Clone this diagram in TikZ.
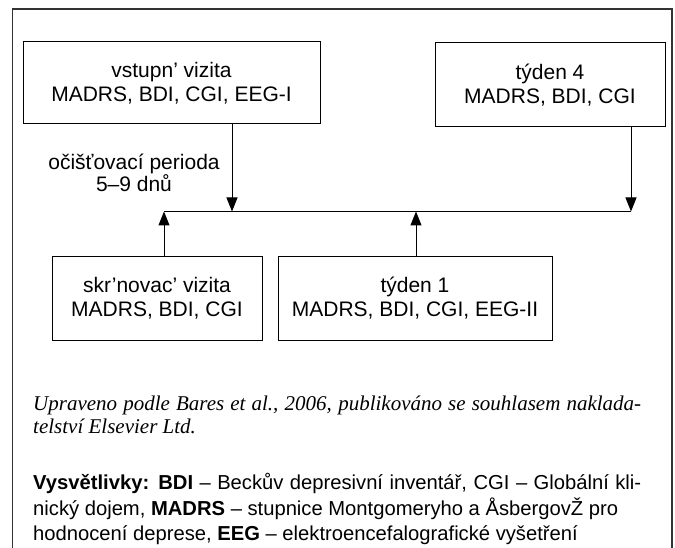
\documentclass[tikz,border=0pt]{standalone}
\usepackage{fontspec}
\setmainfont{Liberation Serif}
\setsansfont{Liberation Sans}
\usetikzlibrary{arrows.meta}
\tikzset{
  stagebox/.style={draw=black, line width=1pt, inner sep=0pt, align=center,
    font=\sffamily\fontsize{21}{24}\selectfont},
  arr/.style={line width=1pt, -{Triangle[length=14pt,width=11pt]}},
  plainline/.style={line width=1pt},
  frameline/.style={draw=black!80, line width=1.5pt},
  capline/.style={anchor=base west, inner sep=0pt, font=\itshape\fontsize{21}{23}\selectfont},
  legline/.style={anchor=base west, inner sep=0pt, font=\sffamily\fontsize{20.2}{25.5}\selectfont},
}
\begin{document}
\begin{tikzpicture}[x=1pt,y=-1pt]
\useasboundingbox (0,0) rectangle (675,548);
\draw[frameline] (12.5,550) -- (12.5,9) -- (672,9) -- (672,550);

\node[stagebox, minimum width=297pt, minimum height=82pt] (b1) at (171.5,83) {vstupn’ vizita\\MADRS, BDI, CGI, EEG-I};
\node[stagebox, minimum width=230pt, minimum height=84pt] (b4) at (550,85) {týden 4\\MADRS, BDI, CGI};
\node[stagebox, minimum width=210pt, minimum height=83pt] (b2) at (157,298.5) {skr’novac’ vizita\\MADRS, BDI, CGI};
\node[stagebox, minimum width=274pt, minimum height=83pt] (b3) at (415,298.5) {týden 1\\MADRS, BDI, CGI, EEG-II};

\node[align=center, inner sep=0pt, font=\sffamily\fontsize{21}{22}\selectfont] (lab) at (134,173) {očišťovací perioda\\5–9 dnů};

\coordinate (L) at (164,211.5);
\coordinate (R) at (631,211.5);
\coordinate (a1) at (232,211.5);
\coordinate (a3) at (416,211.5);

\draw[plainline] (L) -- (R);
\draw[arr] (b1.south -| a1) -- (a1);
\draw[arr] (b4.south -| R) -- (R);
\draw[arr] (b2.north -| L) -- (L);
\draw[arr] (b3.north -| a3) -- (a3);

\node[capline] (cap1) at (33,410) {\makebox[608pt][s]{Upraveno podle Bares et al., 2006, publikováno se souhlasem naklada-}};
\node[capline] (cap2) at (33,433) {telství Elsevier Ltd.};
\node[legline] (leg1) at (33,489) {\makebox[608pt][s]{\textbf{Vysvětlivky: BDI} – Beckův depresivní inventář, CGI – Globální kli-}};
\node[legline] (leg2) at (33,515) {nický dojem, \textbf{MADRS} – stupnice Montgomeryho a ÅsbergovŽ pro};
\node[legline] (leg3) at (33,540) {hodnocení deprese, \textbf{EEG} – elektroencefalografické vyšetření};
\end{tikzpicture}
\end{document}
